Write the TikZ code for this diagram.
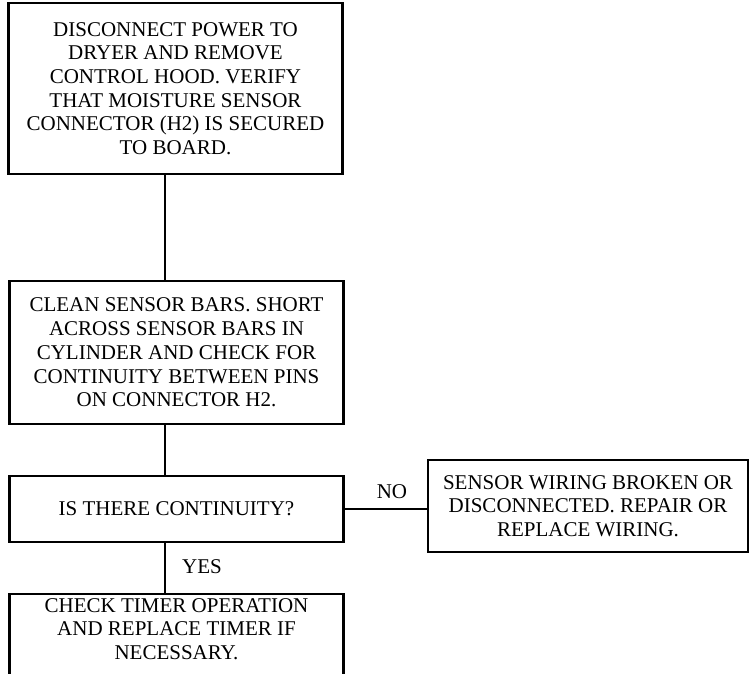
\documentclass[tikz,border=0pt]{standalone}
\usepackage{fontspec}
\setmainfont{Liberation Serif}
\usetikzlibrary{positioning}

\begin{document}
\begin{tikzpicture}[
  x=1pt, y=-1pt,
  every node/.append style={font=\fontsize{21}{23.7}\selectfont, text=black},
  stepbox/.style={draw, line width=2.4pt, minimum width=334pt, align=center, inner sep=0pt},
  link/.style={line width=2pt},
  tag/.style={inner sep=0pt},
]
\clip (0,0) rectangle (750,674);

% ─── spine the main connectors run along ────────────────────────────────────
\coordinate (spine) at (165, 0);

% ─── main column ────────────────────────────────────────────────────────────
\node[stepbox, minimum height=171pt] (hood) at (175.5, 88.5)
      {DISCONNECT POWER TO\\DRYER AND REMOVE\\CONTROL HOOD. VERIFY\\
       THAT MOISTURE SENSOR\\CONNECTOR (H2) IS SECURED\\TO BOARD.};

\node[stepbox, minimum height=143pt] (bars) at (176.5, 352.5)
      {CLEAN SENSOR BARS. SHORT\\ACROSS SENSOR BARS IN\\
       CYLINDER AND CHECK FOR\\CONTINUITY BETWEEN PINS\\ON CONNECTOR H2.};

\node[stepbox, minimum height=66pt] (check) at (176.5, 509)
      {IS THERE CONTINUITY?};

% last box runs off the bottom of the sheet
\node[stepbox, anchor=north, inner ysep=4pt, text depth=80pt] (timer) at (176.5, 593)
      {CHECK TIMER OPERATION\\AND REPLACE TIMER IF\\NECESSARY.};

% ─── NO branch ──────────────────────────────────────────────────────────────
\node[stepbox, minimum width=320pt, minimum height=92pt] (wiring) at (588, 506)
      {SENSOR WIRING BROKEN OR\\DISCONNECTED. REPAIR OR\\REPLACE WIRING.};

% ─── connectors ─────────────────────────────────────────────────────────────
\draw[link] (hood.south -| spine) -- (bars.north -| spine);
\draw[link] (bars.south -| spine) -- (check.north -| spine);
\draw[link] (check.south -| spine) -- (timer.north -| spine);
\draw[link] (check.east) -- (wiring.west |- check.east);

\node[tag] (no) at (392, 492) {NO};
\node[tag, anchor=west] (yes) at (182, 567) {YES};

\end{tikzpicture}
\end{document}
